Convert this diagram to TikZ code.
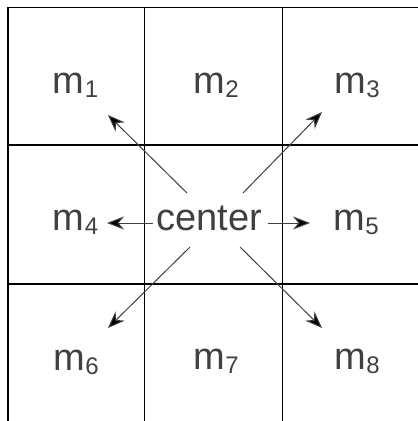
\documentclass[tikz,border=0pt]{standalone}
\usepackage{fontspec}
\setmainfont{Liberation Sans}
\usetikzlibrary{arrows.meta}
\definecolor{txt}{HTML}{404040}
\definecolor{arr}{HTML}{404040}
\newcommand\msub[1]{\kern0.5pt\raisebox{-4.5pt}{\fontsize{24}{24}\selectfont #1}}
\tikzset{
  grid line/.style={line width=1.6pt, black},
  lab/.style={inner sep=0pt, anchor=base, text=txt, font=\fontsize{38}{40}\selectfont},
  ptr/.style={line width=1pt, draw=arr, -{Stealth[length=17pt,width=13pt,inset=5.5pt,fill=black]}}
}
\begin{document}
\begin{tikzpicture}[x=1pt,y=-1pt]
\useasboundingbox (0,0) rectangle (418,421);
% grid
\draw[grid line] (8,421) -- (8,7.5) -- (418,7.5);
\draw[grid line] (144.5,7.5) -- (144.5,421);
\draw[grid line] (282.5,7.5) -- (282.5,421);
\draw[grid line] (8,145) -- (418,145);
\draw[grid line] (8,284) -- (418,284);
% labels
\node[lab] (m1) at (75.5,93) {m\msub{1}};
\node[lab] (m2) at (216,93) {m\msub{2}};
\node[lab] (m3) at (357,93) {m\msub{3}};
\node[lab] (m4) at (75.5,230) {m\msub{4}};
\node[lab] (c) at (209.5,230) {center};
\node[lab] (m5) at (356,230) {m\msub{5}};
\node[lab] (m6) at (76,370) {m\msub{6}};
\node[lab] (m7) at (216,369) {m\msub{7}};
\node[lab] (m8) at (357,369) {m\msub{8}};
% arrow anchors
\coordinate (s1) at (187,193);
\coordinate (t1) at (108,115);
\coordinate (s3) at (243,193);
\coordinate (t3) at (322,112);
\coordinate (s4) at (153,223);
\coordinate (t4) at (107,223);
\coordinate (s5) at (268,223);
\coordinate (t5) at (310,223);
\coordinate (s6) at (190,247);
\coordinate (t6) at (108,328);
\coordinate (s8) at (240,247);
\coordinate (t8) at (322,328);
\draw[ptr] (s1) -- (t1);
\draw[ptr] (s3) -- (t3);
\draw[ptr] (s4) -- (t4);
\draw[ptr] (s5) -- (t5);
\draw[ptr] (s6) -- (t6);
\draw[ptr] (s8) -- (t8);
\end{tikzpicture}
\end{document}
